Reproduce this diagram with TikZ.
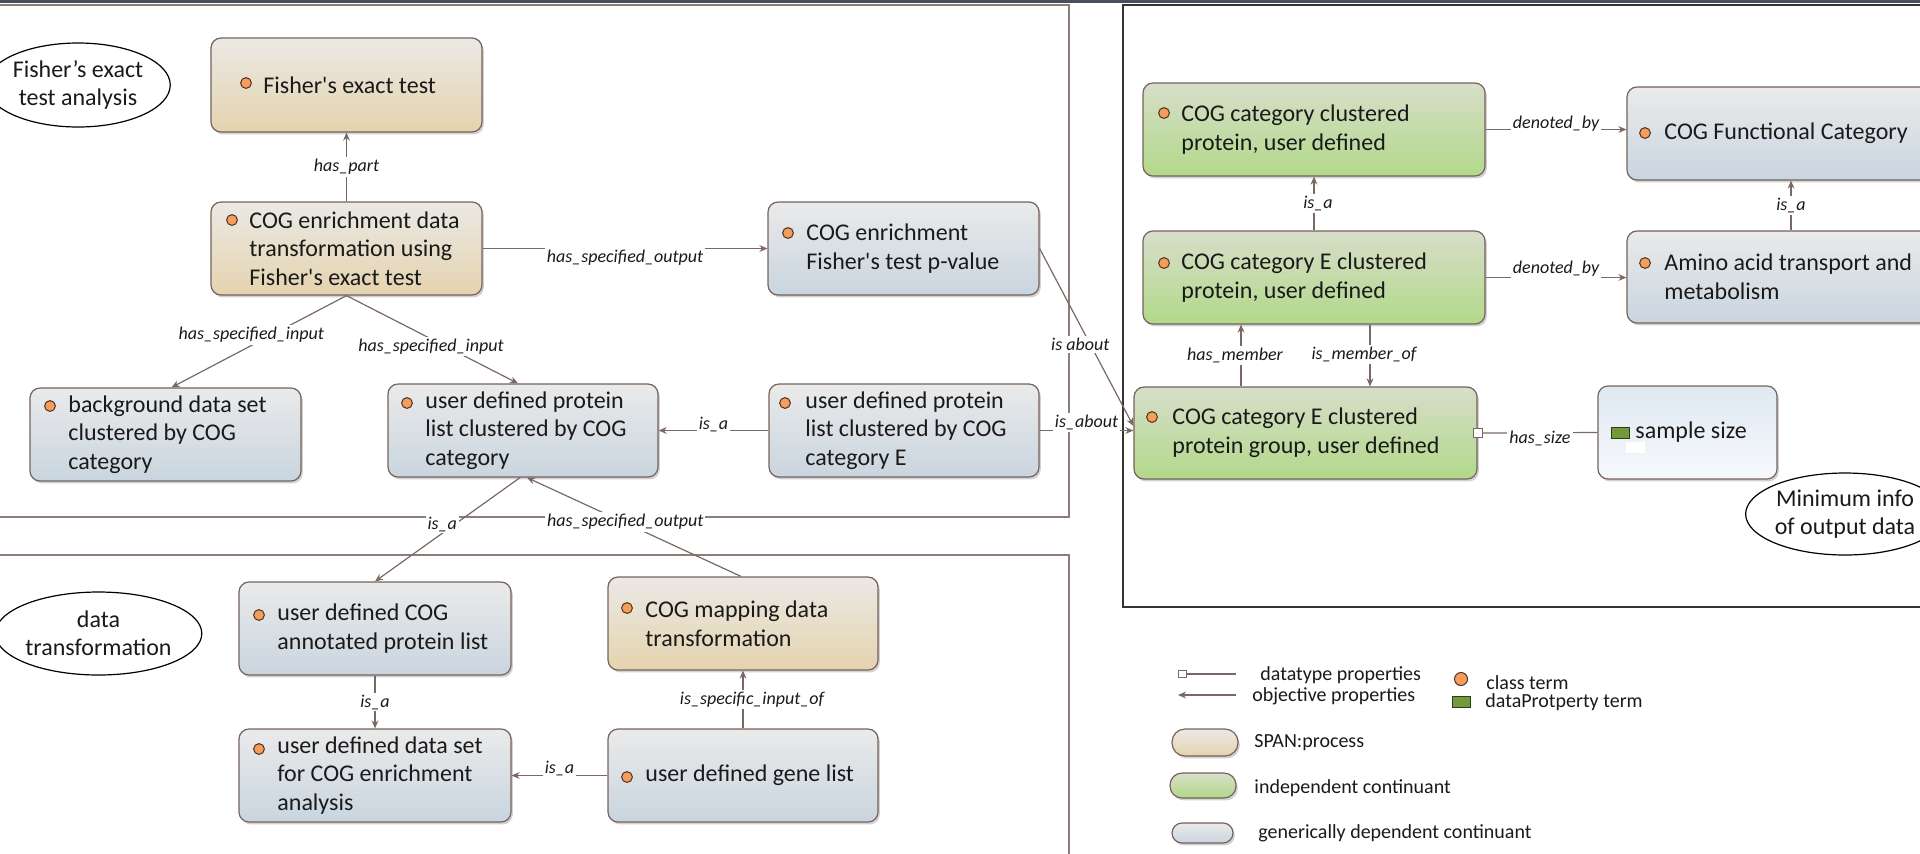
\documentclass[tikz,border=0pt]{standalone}
\usepackage{fontspec}
\setmainfont{Carlito}[Ligatures=TeXOff]
\usetikzlibrary{shadows,arrows.meta,shapes.geometric}
\definecolor{tanT}{HTML}{EBE9E5}
\definecolor{tanB}{HTML}{E4D3AE}
\definecolor{grnT}{HTML}{D7DEC9}
\definecolor{grnB}{HTML}{B2D98A}
\definecolor{gryT}{HTML}{EAEAEA}
\definecolor{gryB}{HTML}{C9D5DF}
\definecolor{ssT}{HTML}{DFE8F1}
\definecolor{ssB}{HTML}{F6F9FC}
\definecolor{bordc}{HTML}{76625B}
\definecolor{connc}{HTML}{7A6864}
\definecolor{dotf}{HTML}{F59E5B}
\definecolor{dotd}{HTML}{4D3020}
\definecolor{sqf}{HTML}{739A3A}
\definecolor{sqd}{HTML}{2F3A1A}
\definecolor{txtc}{HTML}{1A1A1A}
\definecolor{frmc}{HTML}{8C7F7A}
\definecolor{barc}{HTML}{4A4F5C}
\tikzset{
  box/.style={draw=bordc, line width=0.6pt, rounded corners=5pt, inner sep=0pt,
    drop shadow={shadow xshift=0.9pt, shadow yshift=-1.2pt, fill=black, opacity=0.18}},
  wh/.style 2 args={minimum width={#1*0.5pt}, minimum height={#2*0.5pt}},
  proc/.style={box, top color=tanT, bottom color=tanB},
  indc/.style={box, top color=grnT, bottom color=grnB},
  gdc/.style={box, top color=gryT, bottom color=gryB},
  dpc/.style={box, top color=ssT, bottom color=ssB},
  txt/.style={anchor=west, align=left, inner sep=0pt, text=txtc,
    font=\fontsize{12pt}{14.3pt}\selectfont},
  dotm/.style={circle, draw=dotd, fill=dotf, line width=0.5pt, minimum size=5.4pt, inner sep=0pt},
  gsq/.style={rectangle, draw=sqd, fill=sqf, line width=0.5pt, inner sep=0pt},
  dsq/.style={rectangle, draw=connc, fill=white, line width=0.5pt, inner sep=0pt, minimum width=4.5pt, minimum height=4.5pt},
  lab/.style={font=\fontsize{9pt}{10pt}\selectfont\itshape, fill=white, inner sep=1pt, text=txtc},
  conn/.style={draw=connc, line width=0.6pt, -{Stealth[length=4pt,width=3.4pt]}},
  plainc/.style={draw=connc, line width=0.6pt},
  ell/.style={ellipse, draw=black, line width=0.6pt, inner sep=0pt, align=center, text=txtc,
    font=\fontsize{12pt}{14pt}\selectfont},
  legt/.style={anchor=west, inner sep=0pt, text=txtc, font=\fontsize{10pt}{12pt}\selectfont},
}
\begin{document}
\begin{tikzpicture}[x=0.5pt,y=-0.5pt]
\useasboundingbox (0,0) rectangle (1920,853);
\clip (0,0) rectangle (1920,853);
\fill[barc] (0,0) rectangle (1920,2.5);
% frames
\draw[draw=frmc, line width=0.8pt] (-10,5) rectangle (1069,517);
\draw[draw=frmc, line width=0.8pt] (-10,555) rectangle (1069,880);
\draw[draw=black!80, line width=0.8pt] (1123,5) rectangle (1940,607);

% ellipses
\node[ell, minimum width=80pt, minimum height=42pt] (e1) at (78,85) {Fisher’s exact\\test analysis};
\node[ell, minimum width=83.5pt, minimum height=41.5pt] (e2) at (98.5,633.5) {data\\transformation};
\node[ell, minimum width=83pt, minimum height=41pt] (e3) at (1845,514) {Minimum info\\of output data};

% boxes
\node[proc, wh={271}{94}] (fet) at (346.5,85) {};
\node[dotm] (fet-d) at (246,83) {};
\node[txt] (fet-t) at (263,85) {Fisher's exact test};

\node[proc, wh={271}{93}] (ced) at (346.5,248.5) {};
\node[dotm] (ced-d) at (232,220) {};
\node[txt] (ced-t) at (249,248.5) {COG enrichment data\\transformation using\\Fisher's exact test};

\node[gdc, wh={271}{93}] (pv) at (903.5,248.5) {};
\node[dotm] (pv-d) at (788,233) {};
\node[txt] (pv-t) at (806,248.5) {COG enrichment\\Fisher's test p-value};

\node[gdc, wh={271}{93}] (bg) at (165.5,434.5) {};
\node[dotm] (bg-d) at (50,406) {};
\node[txt] (bg-t) at (68,434.5) {background data set\\clustered by COG\\category};

\node[gdc, wh={270}{93}] (up) at (523,430.5) {};
\node[dotm] (up-d) at (407,403) {};
\node[txt] (up-t) at (425,430.5) {user defined protein\\list clustered by COG\\category};

\node[gdc, wh={270}{93}] (upe) at (904,430.5) {};
\node[dotm] (upe-d) at (785,403) {};
\node[txt] (upe-t) at (805,430.5) {user defined protein\\list clustered by COG\\category E};

\node[indc, wh={343}{92}] (grp) at (1305.5,433) {};
\node[dotm] (grp-d) at (1152,417) {};
\node[txt] (grp-t) at (1172,433) {COG category E clustered\\protein group, user defined};

\node[indc, wh={342}{93}] (ccp) at (1314,129.5) {};
\node[dotm] (ccp-d) at (1164,113) {};
\node[txt] (ccp-t) at (1181,129.5) {COG category clustered\\protein, user defined};

\node[indc, wh={342}{93}] (cep) at (1314,277.5) {};
\node[dotm] (cep-d) at (1164,263) {};
\node[txt] (cep-t) at (1181,277.5) {COG category E clustered\\protein, user defined};

\node[gdc, wh={333}{93}] (cfc) at (1793.5,133.5) {};
\node[dotm] (cfc-d) at (1645,133) {};
\node[txt] (cfc-t) at (1664,133.5) {COG Functional Category};

\node[gdc, wh={333}{92}] (aat) at (1793.5,277) {};
\node[dotm] (aat-d) at (1645,263) {};
\node[txt] (aat-t) at (1664,277) {Amino acid transport and\\metabolism};

\node[dpc, wh={179}{93}] (ss) at (1687.5,432.5) {};
\node[gsq, minimum width=9pt, minimum height=5.5pt] (ss-q) at (1620,432.5) {};
\fill[white] (1626,442) rectangle (1645,453);
\node[txt] (ss-t) at (1635,432.5) {sample size};

\node[gdc, wh={272}{93}] (uca) at (375,628.5) {};
\node[dotm] (uca-d) at (259,615) {};
\node[txt] (uca-t) at (277,628.5) {user defined COG\\annotated protein list};

\node[proc, wh={270}{93}] (cmd) at (743,623.5) {};
\node[dotm] (cmd-d) at (627,608) {};
\node[txt] (cmd-t) at (645,623.5) {COG mapping data\\transformation};

\node[gdc, wh={272}{93}] (uds) at (375,775.5) {};
\node[dotm] (uds-d) at (259,749) {};
\node[txt] (uds-t) at (277,775.5) {user defined data set\\for COG enrichment\\analysis};

\node[gdc, wh={270}{93}] (ugl) at (743,775.5) {};
\node[dotm] (ugl-d) at (627,777) {};
\node[txt] (ugl-t) at (645,775.5) {user defined gene list};

% connectors
\draw[conn] (ced.north) -- node[lab, pos=0.5]{has\_part} (fet.south);
\draw[conn] (ced.east) -- node[lab, pos=0.5, yshift=-4.5pt]{has\_specified\_output} (pv.west);
\draw[conn] (ced.south) -- node[lab, pos=0.43, xshift=-10pt]{has\_specified\_input} ([xshift=3pt]bg.north);
\draw[conn] (ced.south) -- node[lab, pos=0.58, xshift=-7.5pt]{has\_specified\_input} ([xshift=-2.5pt]up.north);
\draw[conn] (upe.west) -- node[lab, pos=0.5, yshift=3pt]{is\_a} (up.east);
\draw[conn] (upe.east) -- node[lab, pos=0.5, yshift=4pt]{is\_about} (upe.east -| grp.west);
\draw[conn] (pv.east) -- node[lab, pos=0.54, xshift=-5pt]{is about} ([yshift=3.5pt]grp.west);
\draw[conn] ([xshift=-1.5pt]up.south) -- node[lab, pos=0.447, xshift=-6.5pt]{is\_a} (uca.north);
\draw[conn] ([xshift=-1pt]cmd.north) -- node[lab, pos=0.55, xshift=1pt]{has\_specified\_output} ([xshift=2pt]up.south);
\draw[conn] (uca.south) -- node[lab, pos=0.5]{is\_a} (uds.north);
\draw[conn] (ugl.north) -- node[lab, pos=0.5, xshift=4.5pt]{is\_specific\_input\_of} (cmd.south);
\draw[conn] (ugl.west) -- node[lab, pos=0.5, yshift=3.5pt]{is\_a} (uds.east);
\draw[conn] (ccp.east) -- node[lab, pos=0.5, yshift=3pt]{denoted\_by} (ccp.east -| cfc.west);
\draw[conn] (cep.east) -- node[lab, pos=0.5, yshift=4.5pt]{denoted\_by} (cep.east -| aat.west);
\draw[conn] (cep.north) -- node[lab, pos=0.5, xshift=2pt]{is\_a} (ccp.south);
\draw[conn] ([xshift=-1.25pt]aat.north) -- node[lab, pos=0.5]{is\_a} ([xshift=-1.25pt]cfc.south);
\draw[conn] ([xshift=-32.25pt]grp.north) -- node[lab, pos=0.5, xshift=-3pt]{has\_member} ([xshift=-32.25pt]grp.north |- cep.south);
\draw[conn] ([xshift=28pt]cep.south) -- node[lab, pos=0.48, xshift=-3pt]{is\_member\_of} ([xshift=28pt]cep.south |- grp.north);
\node[dsq] (hs-s) at (grp.east) {};
\draw[plainc] (hs-s.east) -- node[lab, pos=0.5, yshift=-3pt]{has\_size} (ss.west);

% legend
\node[dsq, minimum width=4pt, minimum height=3.5pt] (lg1s) at (1182.5,674) {};
\coordinate (lg1b) at (1236,674);
\draw[plainc] (lg1s.east) -- (lg1b);
\node[legt] (lg1t) at (1260,675) {datatype properties};
\coordinate (lg2a) at (1236,695);
\coordinate (lg2b) at (1178,695);
\draw[conn] (lg2a) -- (lg2b);
\node[legt] (lg2t) at (1252,696) {objective properties};
\node[dotm, minimum size=6.5pt] (lg3d) at (1461,679) {};
\node[legt] (lg3t) at (1486,683) {class term};
\node[gsq, minimum width=9pt, minimum height=5.5pt] (lg4q) at (1461,701.5) {};
\node[legt] (lg4t) at (1485,702) {dataProtperty term};
\node[proc, rounded corners=6.5pt, wh={66}{27}] (lg5) at (1205,742.5) {};
\node[legt] (lg5t) at (1254,743) {SPAN:process};
\node[indc, rounded corners=6pt, wh={66}{25}] (lg6) at (1203,785.5) {};
\node[legt] (lg6t) at (1254,788) {independent continuant};
\node[gdc, rounded corners=5pt, wh={61}{20}] (lg7) at (1202.5,833) {};
\node[legt] (lg7t) at (1258,833) {generically dependent continuant};
\end{tikzpicture}
\end{document}
